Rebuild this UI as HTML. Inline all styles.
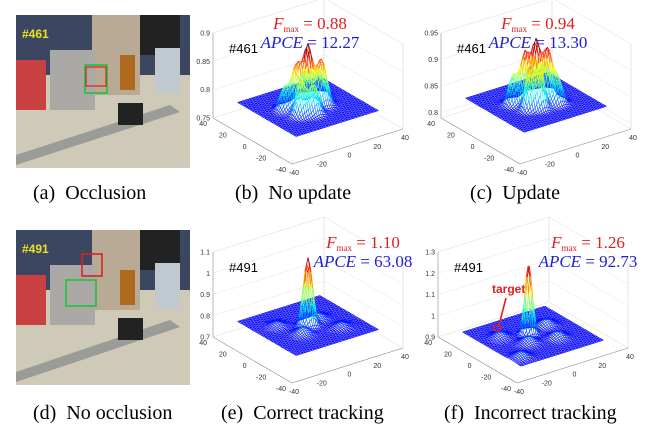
<!DOCTYPE html>
<html><head><meta charset="utf-8">
<style>
html,body{margin:0;padding:0;background:#fff;}
body{width:652px;height:437px;overflow:hidden;position:relative;font-family:"Liberation Sans",sans-serif;}
svg{position:absolute;left:0;top:0;}
.cap{font-family:"Liberation Serif",serif;font-size:20px;fill:#000;}
.tick{font-size:7px;fill:#333;}
</style></head>
<body>
<svg id="fig" width="652" height="437" viewBox="0 0 652 437">
  <g>
    <rect x="16" y="15" width="174" height="153" fill="#cfc9b8"/>
    <rect x="16" y="15" width="174" height="60" fill="#3b4660"/>
    <rect x="92" y="15" width="48" height="80" fill="#b9aa96"/>
    <rect x="140" y="15" width="40" height="40" fill="#222"/>
    <rect x="16" y="60" width="30" height="50" fill="#c94040"/>
    <rect x="50" y="50" width="45" height="60" fill="#aaa9a6"/>
    <rect x="155" y="48" width="25" height="45" fill="#c0c8d0"/>
    <rect x="120" y="55" width="15" height="35" fill="#b06a20"/>
    <polygon points="16,165 16,155 170,105 180,112" fill="#9a9c98"/>
    <rect x="118" y="103" width="25" height="22" fill="#222"/>
    <rect x="85" y="65" width="22" height="28" fill="none" stroke="#1cc43c" stroke-width="1.6"/>
    <rect x="86" y="67" width="20" height="19" fill="none" stroke="#e02020" stroke-width="1.2"/>
    <text x="22" y="38" font-size="12" font-weight="bold" fill="#f0e020">#461</text>
  </g>
  <g>
    <rect x="16" y="230" width="174" height="155" fill="#cfc9b8"/>
    <rect x="16" y="230" width="174" height="60" fill="#3b4660"/>
    <rect x="92" y="230" width="48" height="80" fill="#b9aa96"/>
    <rect x="140" y="230" width="40" height="40" fill="#222"/>
    <rect x="16" y="275" width="30" height="50" fill="#c94040"/>
    <rect x="50" y="265" width="45" height="60" fill="#aaa9a6"/>
    <rect x="155" y="263" width="25" height="45" fill="#c0c8d0"/>
    <rect x="120" y="270" width="15" height="35" fill="#b06a20"/>
    <polygon points="16,382 16,372 170,320 180,327" fill="#9a9c98"/>
    <rect x="118" y="318" width="25" height="22" fill="#222"/>
    <rect x="66" y="280" width="30" height="26" fill="none" stroke="#1cc43c" stroke-width="1.6"/>
    <rect x="82" y="254" width="20" height="22" fill="none" stroke="#e02020" stroke-width="1.6"/>
    <text x="22" y="253" font-size="12" font-weight="bold" fill="#f0e020">#491</text>
  </g>
  <text class="cap" x="33" y="199" xml:space="preserve">(a)  Occlusion</text>
  <text class="cap" x="235" y="199" xml:space="preserve">(b)  No update</text>
  <text class="cap" x="470" y="199" xml:space="preserve">(c)  Update</text>
  <text class="cap" x="33" y="419" xml:space="preserve">(d)  No occlusion</text>
  <text class="cap" x="221" y="419" xml:space="preserve">(e)  Correct tracking</text>
  <text class="cap" x="444" y="419" xml:space="preserve">(f)  Incorrect tracking</text>
</svg>
<script>
// ---- data ----
const uvTicks = [-40,-20,0,20,40];
const zTicksB = [0.75,0.8,0.85,0.9];
const zTicksC = [0.8,0.85,0.9,0.95];
const zTicksE = [0.7,0.8,0.9,1,1.1];
const zTicksF = [0.9,1,1.1,1.2,1.3];
const baseB = 0.78, baseC = 0.83, baseE = 0.78, baseF = 0.93;
// peaks: [u, v, height above base, sigma]
const peaksB = [[0,0,0.10,3.5],[-8,4,0.075,4],[10,-4,0.08,4.5],[-14,-10,0.06,4],[6,12,0.05,4.5],[16,8,0.045,4.5],[-4,-14,0.05,4],[-18,6,0.04,4]];
const peaksC = [[0,0,0.11,3.5],[-7,5,0.09,3.5],[9,-3,0.095,4],[-12,-8,0.08,3.5],[5,11,0.07,4],[15,8,0.06,4],[-4,-12,0.07,3.5],[-16,8,0.055,4],[12,-12,0.05,4]];
const peaksE = [[0,0,0.32,3.6],[-12,-10,0.03,5],[14,6,0.025,5],[-20,14,0.02,5],[20,-18,0.02,5]];
const peaksF = [[0,6,0.33,3],[-10,-8,0.03,5],[14,-14,0.03,5],[-22,14,0.025,5],[20,10,0.03,5],[-30,-26,0.025,5]];
const fmaxVals = ["0.88","0.94","1.10","1.26"];
const apceVals = ["12.27","13.30","63.08","92.73"];
const frameIds = ["#461","#461","#491","#491"];

const NS="http://www.w3.org/2000/svg";
const svg=document.getElementById('fig');
function mk(tag,attrs,parent){const e=document.createElementNS(NS,tag);for(const k in attrs)e.setAttribute(k,attrs[k]);(parent||svg).appendChild(e);return e;}
function jet(t){t=Math.max(0,Math.min(1,t));const r=Math.min(1,Math.max(0,1.5-Math.abs(4*t-3))),g=Math.min(1,Math.max(0,1.5-Math.abs(4*t-2))),b=Math.min(1,Math.max(0,1.5-Math.abs(4*t-1)));return `rgb(${r*255|0},${g*255|0},${b*255|0})`;}

const SURF_SCALE = 0.74;
function panel(name,dx,dy,zmin,zmax,zTicks,base,peaks,idx){
  const g=mk('g',{});
  
  
  const L=[213+dx,118+dy],F=[292+dx,164+dy],R=[403+dx,129+dy],B=[L[0]+R[0]-F[0],L[1]+R[1]-F[1]];
  const H=85;
  const zy=z=>(z-zmin)/(zmax-zmin)*H;
  const P=(u,v,z)=>{const a=(u+40)/80,b=(v+40)/80;return [F[0]+a*(R[0]-F[0])+b*(L[0]-F[0]), F[1]+a*(R[1]-F[1])+b*(L[1]-F[1])-zy(z)];};
  const ln=(p,q,c,w)=>mk('line',{x1:p[0],y1:p[1],x2:q[0],y2:q[1],stroke:c,'stroke-width':w},g);
  const top=p=>[p[0],p[1]-H];
  ln(L,top(L),'#888',0.6);ln(B,top(B),'#ccc',0.5);ln(R,top(R),'#ccc',0.5);
  ln(top(L),top(B),'#ddd',0.5);ln(top(B),top(R),'#ddd',0.5);
  ln(L,B,'#ddd',0.5);ln(B,R,'#ddd',0.5);
  zTicks.forEach(z=>{const y=zy(z);ln([L[0],L[1]-y],[B[0],B[1]-y],'#e4e4e4',0.5);ln([B[0],B[1]-y],[R[0],R[1]-y],'#e4e4e4',0.5);
    const t=mk('text',{x:L[0]-3,y:L[1]-y+2.5,'text-anchor':'end',class:'tick'},g);t.textContent=z;});
  ln(L,F,'#888',0.6);ln(F,R,'#888',0.6);
  uvTicks.forEach(s=>{const p=P(-40,s,zmin);const t=mk('text',{x:p[0]-6,y:p[1]+8,'text-anchor':'end',class:'tick'},g);t.textContent=s;
    const q=P(s,-40,zmin);const t2=mk('text',{x:q[0]+2,y:q[1]+11,'text-anchor':'middle',class:'tick'},g);t2.textContent=s;});
  const N=46, zs=[];
  const zmaxS=base+Math.max(...peaks.map(p=>p[2]));
  for(let i=0;i<=N;i++){zs.push([]);for(let j=0;j<=N;j++){const u=-40+80*i/N,v=-40+80*j/N;let z=base;
    peaks.forEach(p=>{const d2=(u-p[0])**2+(v-p[1])**2;z+=p[2]*Math.exp(-d2/(2*p[3]*p[3]));});zs[i].push(z);}}
  const sg=mk('g',{},g);
  
  
  const S=(u,v,z)=>P(u*SURF_SCALE,v*SURF_SCALE,z);
  const col=t=>jet((t-base)/(zmaxS-base)*0.88+0.12);
  for(let i=N;i>=0;i--)for(let j=0;j<=N;j++){
    const u=-40+80*i/N,v=-40+80*j/N,p=S(u,v,zs[i][j]);
    if(i<N){const q=S(-40+80*(i+1)/N,v,zs[i+1][j]);mk('line',{x1:p[0],y1:p[1],x2:q[0],y2:q[1],stroke:col((zs[i][j]+zs[i+1][j])/2),'stroke-width':0.65},sg);}
    if(j<N){const q=S(u,-40+80*(j+1)/N,zs[i][j+1]);mk('line',{x1:p[0],y1:p[1],x2:q[0],y2:q[1],stroke:col((zs[i][j]+zs[i][j+1])/2),'stroke-width':0.65},sg);}
  }
  const id=mk('text',{x:L[0]+16,y:L[1]-H+20,'font-size':13,fill:'#000'},g);id.textContent=frameIds[idx];
  
  const fx = idx<2 ? L[0]+97 : L[0]+150;
  const f=mk('text',{x:fx,y:L[1]-H-4,'font-family':'Liberation Serif,serif','font-size':17,fill:'#e02020','text-anchor':'middle'},g);
  f.innerHTML='<tspan font-style="italic">F</tspan><tspan font-size="9" dy="3">max</tspan><tspan dy="-3"> = '+fmaxVals[idx]+'</tspan>';
  
  const a=mk('text',{x:fx,y:L[1]-H+15,'font-family':'Liberation Serif,serif','font-size':17,fill:'#2020d0','text-anchor':'middle'},g);
  a.innerHTML='<tspan font-style="italic">APCE</tspan> = '+apceVals[idx];
  
}
panel('plot-no-update',0,0,0.75,0.9,zTicksB,baseB,peaksB,0);
panel('plot-update',228,0,0.79,0.95,zTicksC,baseC,peaksC,1);
panel('plot-correct-tracking',0,219,0.7,1.1,zTicksE,baseE,peaksE,2);
panel('plot-incorrect-tracking',225,219,0.9,1.3,zTicksF,baseF,peaksF,3);
const tg=mk('g',{});


mk('ellipse',{cx:497,cy:328,rx:4,ry:3,fill:'none',stroke:'#e02020','stroke-width':1.6},tg);
mk('line',{x1:499,y1:325,x2:506,y2:298,stroke:'#e02020','stroke-width':1.6},tg);
const tt=mk('text',{x:492,y:293,'font-size':12,'font-weight':'bold',fill:'#e02020'},tg);tt.textContent='target';
</script>
</body></html>
